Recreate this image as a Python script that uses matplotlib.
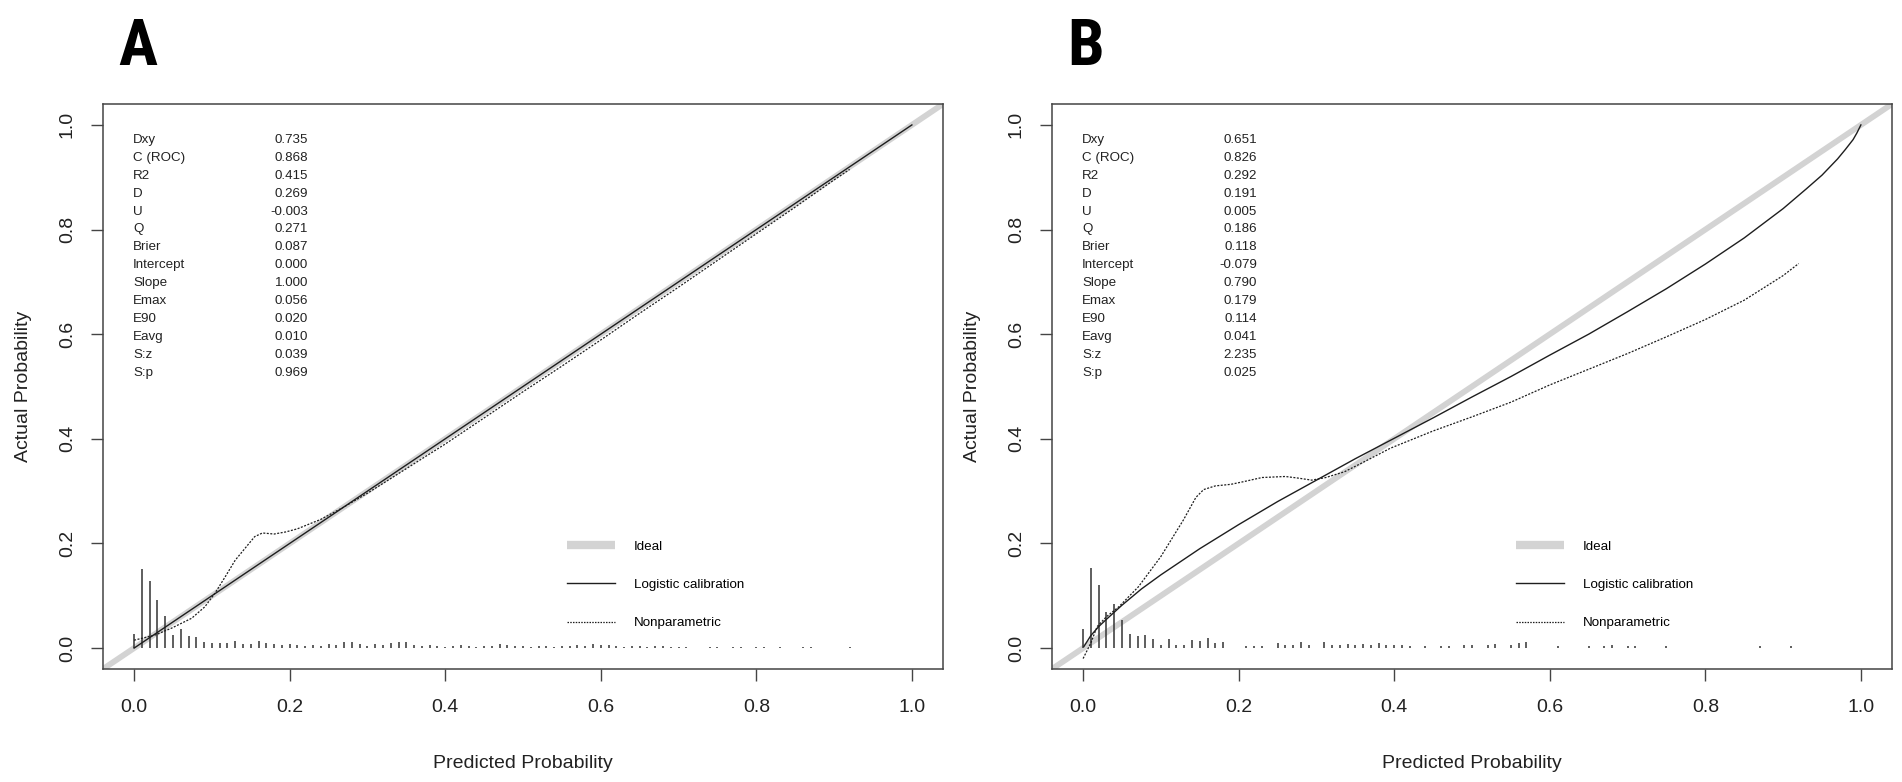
import matplotlib
matplotlib.use("Agg")
import matplotlib.pyplot as plt
from matplotlib import font_manager as fm
import numpy as np

plt.rcParams['font.family'] = ['Liberation Sans', 'DejaVu Sans']

# ---- statistics printed in the top-left of each panel
stat_names = ["Dxy", "C (ROC)", "R2", "D", "U", "Q", "Brier", "Intercept",
              "Slope", "Emax", "E90", "Eavg", "S:z", "S:p"]
stats_a = ["0.735", "0.868", "0.415", "0.269", "-0.003", "0.271", "0.087",
           "0.000", "1.000", "0.056", "0.020", "0.010", "0.039", "0.969"]
stats_b = ["0.651", "0.826", "0.292", "0.191", "0.005", "0.186", "0.118",
           "-0.079", "0.790", "0.179", "0.114", "0.041", "2.235", "0.025"]

# ---- panel A curves
logit_a_x = [0.0, 0.25, 0.5, 0.75, 1.0]
logit_a_y = [0.0, 0.25, 0.5, 0.75, 1.0]
nonpar_a_x = [0.0, 0.027, 0.048, 0.074, 0.091, 0.104, 0.117, 0.13, 0.145, 0.155,
              0.165, 0.18, 0.195, 0.21, 0.24, 0.27, 0.3, 0.35, 0.4, 0.45, 0.5,
              0.55, 0.6, 0.65, 0.7, 0.75, 0.8, 0.85, 0.9, 0.92]
nonpar_a_y = [0.015, 0.025, 0.038, 0.057, 0.079, 0.105, 0.136, 0.168, 0.195, 0.213,
              0.22, 0.218, 0.222, 0.228, 0.246, 0.27, 0.296, 0.343, 0.39, 0.44, 0.49,
              0.539, 0.589, 0.64, 0.69, 0.741, 0.792, 0.843, 0.895, 0.915]

# ---- panel B curves
logit_b_x = [0.001, 0.01, 0.02, 0.03, 0.05, 0.075, 0.1, 0.15, 0.2, 0.25, 0.3, 0.35,
             0.4, 0.45, 0.5, 0.55, 0.6, 0.65, 0.7, 0.75, 0.8, 0.85, 0.9, 0.93,
             0.95, 0.97, 0.98, 0.99, 0.995, 1.0]
logit_b_y = [0.003, 0.024, 0.041, 0.055, 0.082, 0.113, 0.14, 0.19, 0.236, 0.28, 0.321,
             0.362, 0.401, 0.44, 0.48, 0.519, 0.56, 0.6, 0.643, 0.687, 0.734, 0.784,
             0.84, 0.878, 0.904, 0.935, 0.953, 0.972, 0.985, 1.0]
nonpar_b_x = [0.0, 0.01, 0.018, 0.03, 0.046, 0.071, 0.1, 0.129, 0.145, 0.155, 0.17,
              0.19, 0.206, 0.23, 0.26, 0.276, 0.294, 0.312, 0.336, 0.36, 0.395, 0.45,
              0.5, 0.55, 0.6, 0.65, 0.7, 0.75, 0.8, 0.85, 0.9, 0.92]
nonpar_b_y = [-0.02, 0.01, 0.041, 0.06, 0.079, 0.117, 0.175, 0.245, 0.288, 0.303, 0.31,
              0.313, 0.318, 0.326, 0.328, 0.325, 0.321, 0.326, 0.337, 0.355, 0.382,
              0.415, 0.442, 0.47, 0.503, 0.533, 0.563, 0.595, 0.628, 0.665, 0.712, 0.735]

# ---- spike histograms of predicted risk
spike_a_x = [0.00, 0.01, 0.02, 0.03, 0.04, 0.05, 0.06, 0.07, 0.08, 0.09, 0.10, 0.11,
             0.12, 0.13, 0.14, 0.15, 0.16, 0.17, 0.18, 0.19, 0.20, 0.21, 0.22, 0.23,
             0.24, 0.25, 0.26, 0.27, 0.28, 0.29, 0.30, 0.31, 0.32, 0.33, 0.34, 0.35,
             0.36, 0.37, 0.38, 0.39, 0.40, 0.41, 0.42, 0.43, 0.44, 0.45, 0.46, 0.47,
             0.48, 0.49, 0.50, 0.51, 0.52, 0.53, 0.54, 0.55, 0.56, 0.57, 0.58, 0.59,
             0.60, 0.61, 0.62, 0.63, 0.64, 0.65, 0.66, 0.67, 0.68, 0.69, 0.70, 0.71,
             0.74, 0.75, 0.77, 0.78, 0.80, 0.81, 0.83, 0.86, 0.87, 0.92]
spike_a_h = [0.027, 0.152, 0.128, 0.092, 0.062, 0.025, 0.036, 0.024, 0.021, 0.012, 0.010, 0.010,
             0.010, 0.013, 0.008, 0.008, 0.013, 0.010, 0.008, 0.006, 0.008, 0.006, 0.004, 0.005,
             0.004, 0.008, 0.006, 0.012, 0.012, 0.008, 0.004, 0.008, 0.005, 0.010, 0.012, 0.012,
             0.006, 0.004, 0.005, 0.004, 0.003, 0.004, 0.006, 0.004, 0.003, 0.004, 0.004, 0.008,
             0.005, 0.004, 0.004, 0.003, 0.004, 0.004, 0.003, 0.004, 0.004, 0.005, 0.004, 0.008,
             0.006, 0.005, 0.004, 0.003, 0.004, 0.004, 0.003, 0.004, 0.004, 0.003, 0.003, 0.003,
             0.003, 0.003, 0.003, 0.003, 0.003, 0.003, 0.003, 0.003, 0.003, 0.003]
spike_b_x = [0.00, 0.01, 0.02, 0.03, 0.04, 0.05, 0.06, 0.07, 0.08, 0.09, 0.10, 0.11,
             0.12, 0.13, 0.14, 0.15, 0.16, 0.17, 0.18, 0.21, 0.22, 0.23, 0.25, 0.26,
             0.27, 0.28, 0.29, 0.31, 0.32, 0.33, 0.34, 0.35, 0.36, 0.37, 0.38, 0.39,
             0.40, 0.41, 0.42, 0.44, 0.46, 0.47, 0.49, 0.50, 0.52, 0.53, 0.55, 0.56,
             0.57, 0.61, 0.65, 0.67, 0.68, 0.70, 0.71, 0.75, 0.87, 0.91]
spike_b_h = [0.037, 0.153, 0.120, 0.069, 0.085, 0.054, 0.027, 0.023, 0.025, 0.017, 0.006, 0.018,
             0.006, 0.006, 0.015, 0.013, 0.019, 0.010, 0.012, 0.004, 0.004, 0.004, 0.010, 0.006,
             0.006, 0.012, 0.006, 0.012, 0.006, 0.005, 0.008, 0.006, 0.008, 0.006, 0.010, 0.006,
             0.005, 0.005, 0.004, 0.004, 0.004, 0.004, 0.005, 0.005, 0.005, 0.008, 0.006, 0.010,
             0.012, 0.004, 0.004, 0.004, 0.006, 0.004, 0.004, 0.004, 0.004, 0.004]

ticks = [0.0, 0.2, 0.4, 0.6, 0.8, 1.0]
tick_labels = ["0.0", "0.2", "0.4", "0.6", "0.8", "1.0"]
legend_labels = ["Ideal", "Logistic calibration", "Nonparametric"]

W, H = 1902, 782
fig = plt.figure(figsize=(W / 100, H / 100), dpi=100)

box_l = [103, 1052]
box_w, box_top, box_bot = 840, 104, 669


def pick_font(cands):
    # first installed condensed family for the panel letters
    for name in cands:
        try:
            fm.findfont(fm.FontProperties(family=name, weight="bold"),
                        fallback_to_default=False)
            return name
        except Exception:
            continue
    return "Liberation Sans"


letter_font = pick_font(["Liberation Sans Narrow", "Roboto Condensed",
                         "Open Sans Condensed", "DejaVu Sans Condensed",
                         "Liberation Sans"])


def draw_panel(ax, stats, lx, ly, nx, ny, sx, sh):
    ax.set_xlim(-0.04, 1.04)
    ax.set_ylim(-0.04, 1.04)
    ax.axline((0, 0), slope=1, color="#d3d3d3", lw=4.2, solid_capstyle="butt", zorder=1)
    ax.vlines(sx, 0, sh, color="#333333", lw=1.1, zorder=2)
    ax.plot(lx, ly, color="#1e1e1e", lw=1.0, zorder=3)
    ax.plot(nx, ny, color="#1e1e1e", lw=0.9, dashes=(1.6, 1.2), zorder=3)

    # legend using proxy handles styled like the lines
    h_ideal, = ax.plot([], [], color="#d3d3d3", lw=6, solid_capstyle="butt")
    h_log, = ax.plot([], [], color="#1e1e1e", lw=1.0)
    h_np, = ax.plot([], [], color="#1e1e1e", lw=0.9, dashes=(1.2, 1.0))
    ax.legend([h_ideal, h_log, h_np], legend_labels, loc="upper left",
              bbox_to_anchor=(0.5524, 0.228), frameon=False, fontsize=9.6,
              handlelength=3.6, handletextpad=1.4, labelspacing=1.95,
              borderpad=0, borderaxespad=0)

    for i, (name, val) in enumerate(zip(stat_names, stats)):
        y = 0.9363 - i * 0.03168
        ax.text(0.0357, y, name, transform=ax.transAxes, fontsize=9.6,
                va="center", ha="left", color="#222222")
        ax.text(0.244, y, val, transform=ax.transAxes, fontsize=9.6,
                va="center", ha="right", color="#222222")

    ax.set_xticks(ticks, tick_labels)
    ax.set_yticks(ticks, tick_labels)
    ax.tick_params(direction="out", length=8.6, width=1.0, color="#444444",
                   labelsize=14, labelcolor="#222222")
    ax.tick_params(axis="x", pad=13)
    ax.tick_params(axis="y", pad=11, labelrotation=90)
    for lab in ax.get_yticklabels():
        lab.set_va("center")
    for sp in ax.spines.values():
        sp.set_color("#444444")
        sp.set_linewidth(1.1)

    ax.set_xlabel("Predicted Probability", fontsize=14, color="#222222", va="center")
    ax.xaxis.set_label_coords(0.5, -0.168)
    ax.set_ylabel("Actual Probability", fontsize=14, color="#222222", va="center")
    ax.yaxis.set_label_coords(-0.0952, 0.5)


letters = ["A", "B"]
stats_all = [stats_a, stats_b]
curves = [(logit_a_x, logit_a_y, nonpar_a_x, nonpar_a_y, spike_a_x, spike_a_h),
          (logit_b_x, logit_b_y, nonpar_b_x, nonpar_b_y, spike_b_x, spike_b_h)]

for k in range(2):
    ax = fig.add_axes([box_l[k] / W, 1 - box_bot / H, box_w / W, (box_bot - box_top) / H])
    draw_panel(ax, stats_all[k], *curves[k])
    fig.text((box_l[k] + 15) / W, 1 - 65 / H, letters[k], fontsize=47, fontweight="bold",
             family=[letter_font, "DejaVu Sans"], ha="left", va="baseline")

fig.savefig("out.png", dpi=100)
